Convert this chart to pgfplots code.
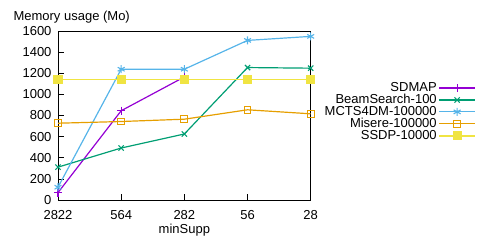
\documentclass[border=0pt]{standalone}
\usepackage{pgfplots}
\pgfplotsset{compat=1.18}
\usepackage{fontspec}
\setmainfont{Liberation Sans}
\definecolor{c1}{HTML}{9400D3}
\definecolor{c2}{HTML}{009E73}
\definecolor{c3}{HTML}{56B4E9}
\definecolor{c4}{HTML}{E69F00}
\definecolor{c5}{HTML}{F0E442}
\newcommand{\fs}{\fontsize{13bp}{15bp}\selectfont}
\begin{document}
\fs
\begin{tikzpicture}
\begin{axis}[
  scale only axis, width=252.7bp, height=169bp,
  xmin=0, xmax=4, ymin=0, ymax=1600,
  xtick={0,1,2,3,4}, xticklabels={2822,564,282,56,28},
  ytick={0,200,...,1600},
  tick align=inside, tick pos=left,
  major tick length=6bp,
  tick style={black, line width=0.6pt},
  axis line style={line width=0.7pt},
  /pgf/number format/assume math mode=true,
  /pgf/number format/1000 sep={},
  ticklabel style={font=\fs},
  yticklabel style={xshift=-2bp},
  xticklabel style={yshift=-6bp},
  label style={font=\fs},
  xlabel={minSupp},
  xlabel style={yshift=5bp},
  ylabel={Memory usage (Mo)},
  ylabel style={rotate=-90, at={(rel axis cs:0,1)}, anchor=base west, xshift=-49bp, yshift=10bp},
  clip=false,
  legend plot pos=right,
  legend cell align=right,
  legend style={draw=none, fill=none, at={(rel axis cs:1.655,0.705)}, anchor=north east,
    inner sep=0pt, row sep=-2.3bp, font=\fs,
    nodes={inner sep=1.5bp}},
  legend image code/.code={\draw[mark repeat=2,mark phase=2] plot coordinates {(0bp,0bp)(18bp,0bp)(36bp,0bp)};},
]
\coordinate (o) at (rel axis cs:0,0);
\addplot[c1, line width=1.2pt, mark=+, mark size=4bp, mark options={line width=1.1pt}] coordinates {(0,70)(1,845)(2,1165)};
\addlegendentry{SDMAP\hspace{6bp}}
\addplot[c2, line width=1.2pt, mark=x, mark size=3.7bp, mark options={line width=1.1pt}] coordinates {(0,311)(1,492)(2,625)(3,1254)(4,1248)};
\addlegendentry{BeamSearch-100\hspace{6bp}}
\addplot[c3, line width=1.2pt, mark=asterisk, mark size=4bp, mark options={line width=1.1pt}] coordinates {(0,121)(1,1238)(2,1238)(3,1511)(4,1549)};
\addlegendentry{MCTS4DM-100000\hspace{6bp}}
\addplot[c4, line width=1.2pt, mark=square, mark size=3.4bp, mark options={line width=1.1pt}] coordinates {(0,727)(1,743)(2,765)(3,854)(4,816)};
\addlegendentry{Misere-100000\hspace{6bp}}
\addplot[c5, line width=1.8pt, mark=square*, mark size=3.7bp] coordinates {(0,1140)(1,1140)(2,1140)(3,1140)(4,1140)};
\addlegendentry{SSDP-10000\hspace{6bp}}
\end{axis}
\path (o) ++(-58bp,-45bp) rectangle ++(490bp,245bp);
\end{tikzpicture}
\end{document}
